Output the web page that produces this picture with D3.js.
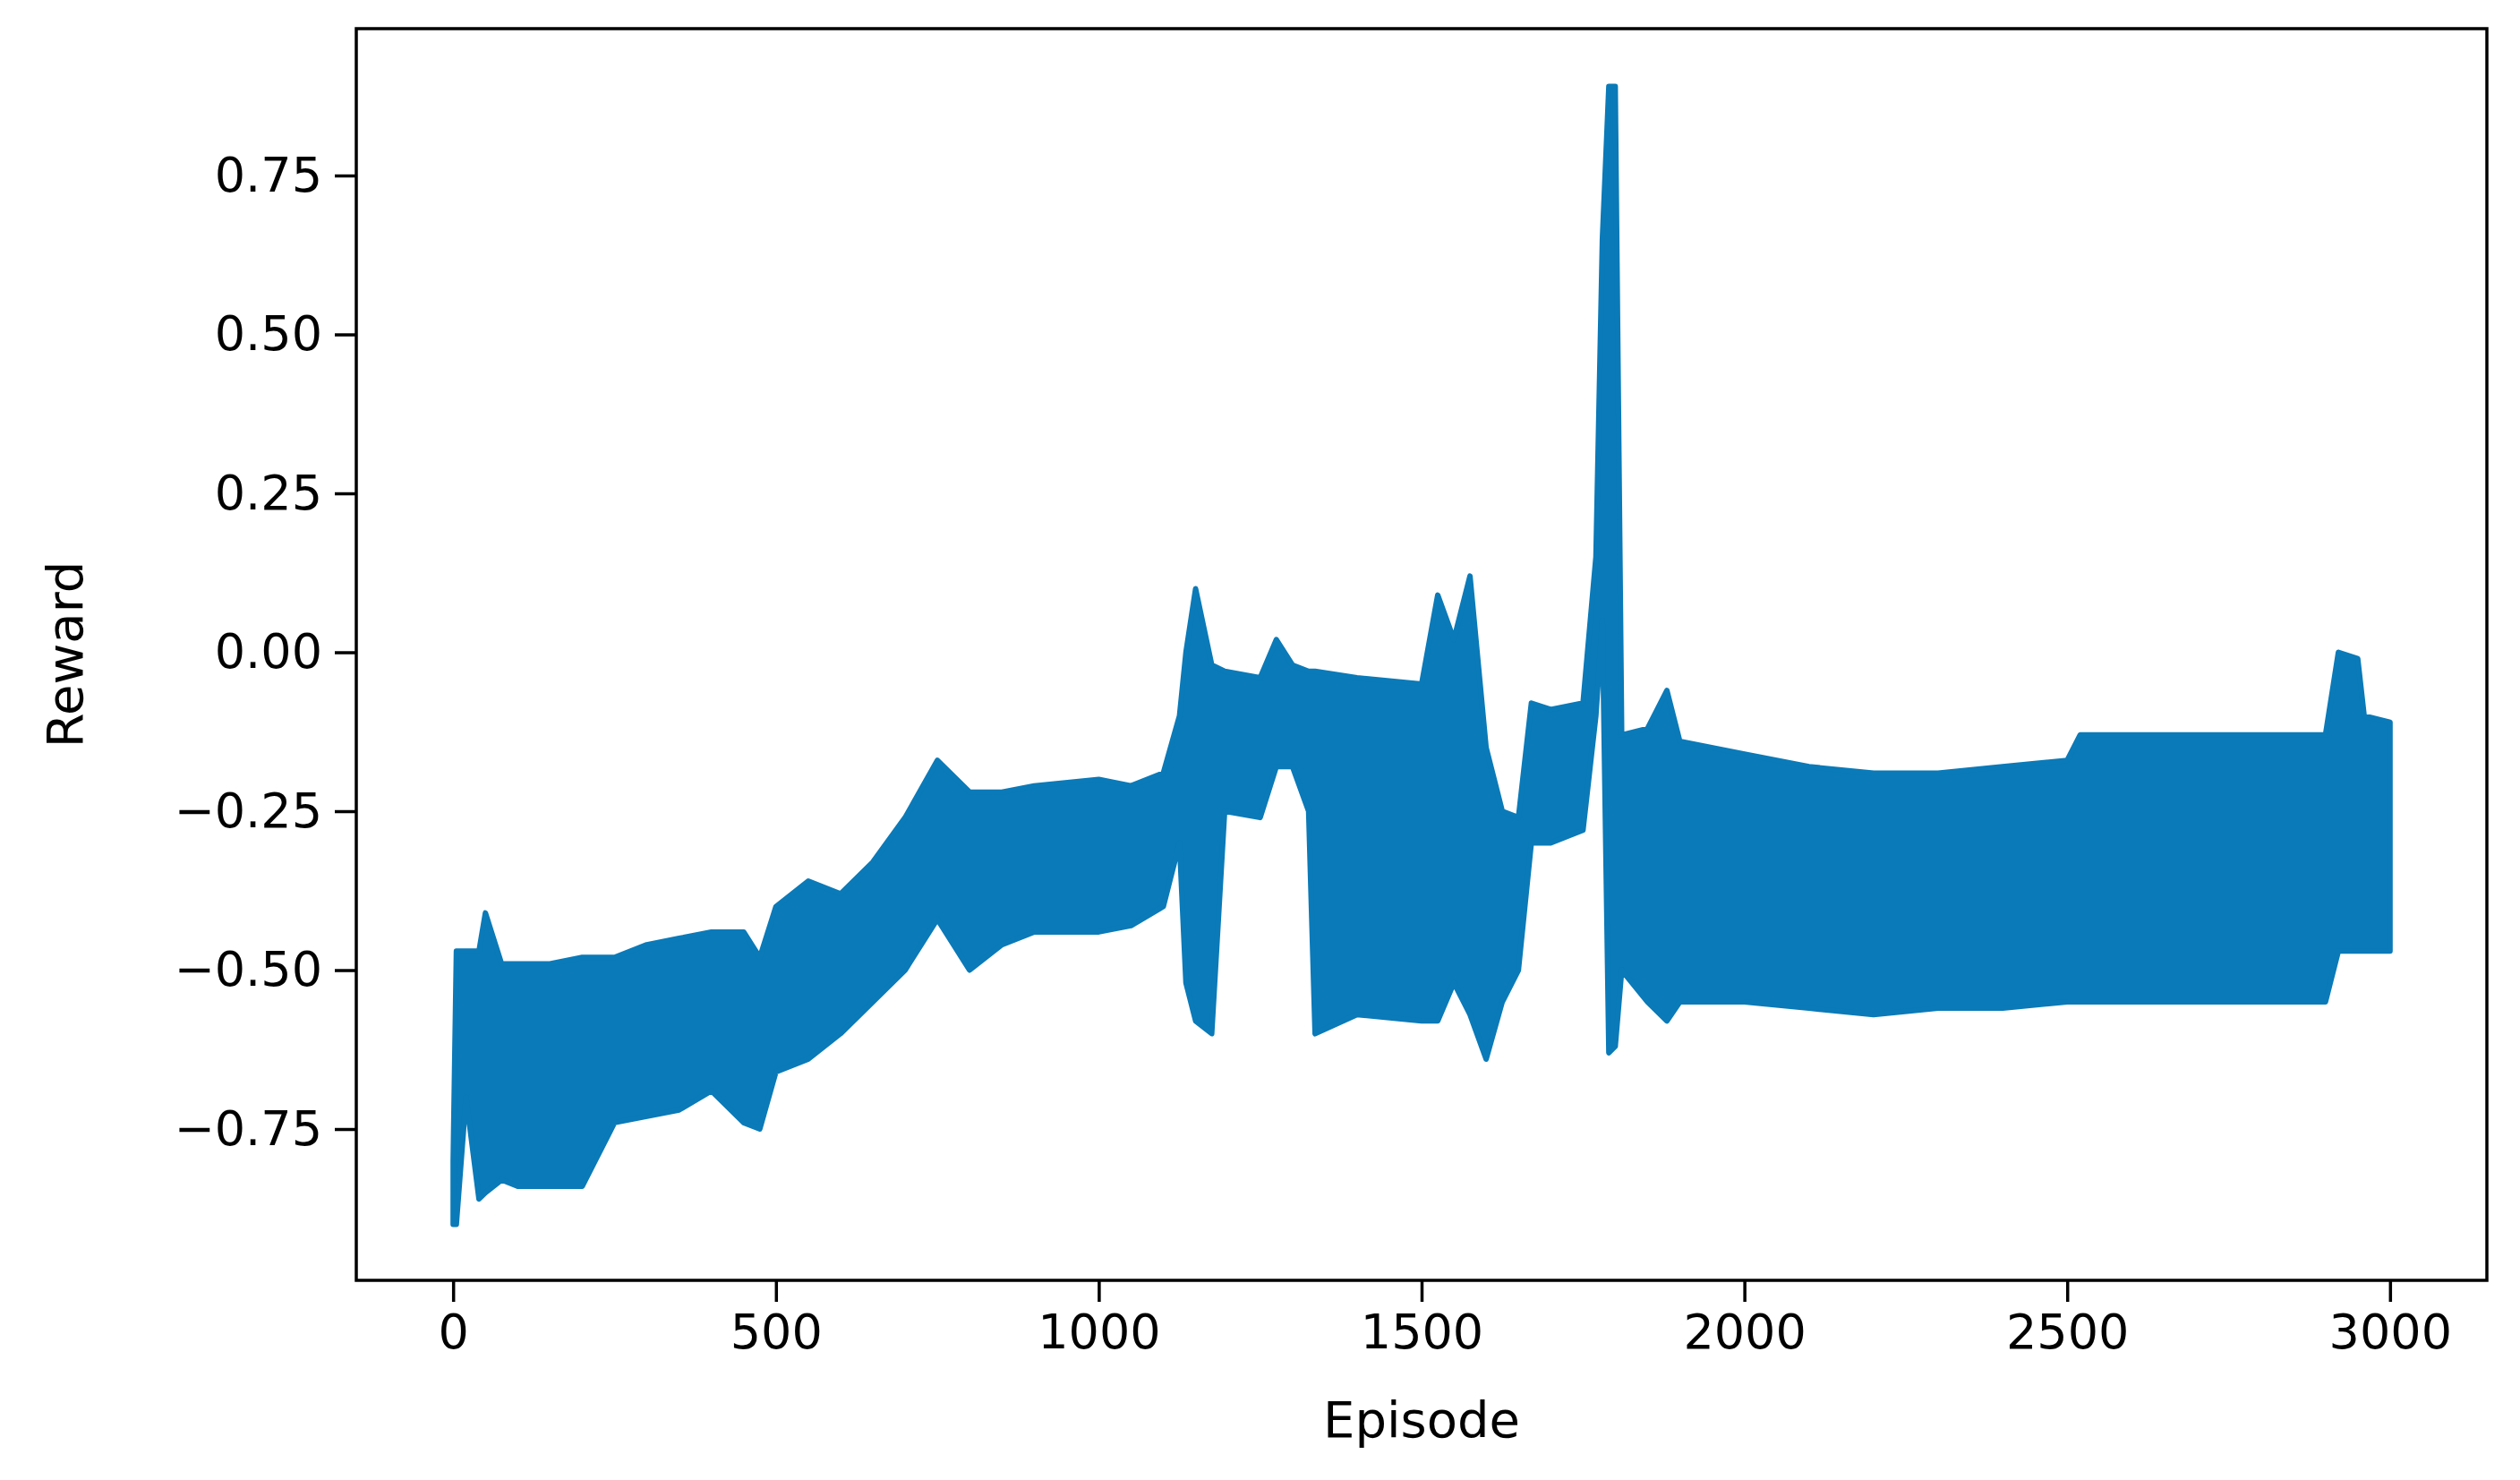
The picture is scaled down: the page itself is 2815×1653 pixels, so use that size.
<!DOCTYPE html>
<html>
<head>
<meta charset="utf-8">
<script src="https://d3js.org/d3.v7.min.js"></script>
<style>
  body { margin: 0; background: #fff; }
  text { font-family: "DejaVu Sans", sans-serif; fill: #000; }
</style>
</head>
<body>
<div id="container"></div>
<script>
// episode, upper and lower envelope of the reward trace
var episodes = [0, 5, 20, 40, 50, 75, 100, 150, 200, 250, 300, 350, 400, 450, 475, 500, 550, 600, 650, 700,
    750, 800, 850, 900, 1000, 1050, 1100, 1125, 1135, 1150, 1175, 1195, 1250, 1275, 1300, 1325, 1335, 1400,
    1500, 1525, 1550, 1575, 1600, 1625, 1650, 1670, 1700, 1750, 1770, 1780, 1790, 1800, 1810, 1850, 1880,
    1900, 2000, 2100, 2200, 2300, 2400, 2500, 2520, 2600, 2700, 2800, 2900, 2920, 2950, 2960, 3000];
var upper = [-0.80, -0.47, -0.47, -0.47, -0.41, -0.49, -0.49, -0.49, -0.48, -0.48, -0.46, -0.45, -0.44, -0.44, -0.48, -0.40, -0.36, -0.38, -0.33, -0.26,
    -0.17, -0.22, -0.22, -0.21, -0.20, -0.21, -0.19, -0.10, 0.00, 0.10, -0.02, -0.03, -0.04, 0.02, -0.02, -0.03, -0.03, -0.04,
    -0.05, 0.09, 0.02, 0.12, -0.15, -0.25, -0.26, -0.08, -0.09, -0.08, 0.15, 0.65, 0.89, 0.89, -0.13, -0.12, -0.06,
    -0.14, -0.16, -0.18, -0.19, -0.19, -0.18, -0.17, -0.13, -0.13, -0.13, -0.13, -0.13, 0.00, -0.01, -0.10, -0.11];
var lower = [-0.90, -0.90, -0.70, -0.86, -0.85, -0.83, -0.84, -0.84, -0.84, -0.74, -0.73, -0.72, -0.69, -0.74, -0.75, -0.66, -0.64, -0.60, -0.55, -0.50,
    -0.42, -0.50, -0.46, -0.44, -0.44, -0.43, -0.40, -0.30, -0.52, -0.58, -0.60, -0.25, -0.26, -0.18, -0.18, -0.25, -0.60, -0.57,
    -0.58, -0.58, -0.52, -0.57, -0.64, -0.55, -0.50, -0.30, -0.30, -0.28, -0.10, 0.05, -0.63, -0.62, -0.50, -0.55, -0.58,
    -0.55, -0.55, -0.56, -0.57, -0.56, -0.56, -0.55, -0.55, -0.55, -0.55, -0.55, -0.55, -0.47, -0.47, -0.47, -0.47];
var xTicks = [0, 500, 1000, 1500, 2000, 2500, 3000];
var yTicks = [-0.75, -0.5, -0.25, 0, 0.25, 0.5, 0.75];

var svgWidth = 2815, svgHeight = 1653,
    plotLeft = 398, plotRight = 2778, plotTop = 32, plotBottom = 1430;

var svg = d3.select('#container')
    .append('svg')
    .attr('width', svgWidth)
    .attr('height', svgHeight);

var x = d3.scaleLinear().domain([-150, 3150]).range([plotLeft, plotRight]);
var y = d3.scaleLinear().domain([-0.988, 0.981]).range([plotBottom, plotTop]);

var data = episodes.map(function(e, i) {
    return { e: e, hi: upper[i], lo: lower[i] };
});

var area = d3.area()
    .x(function(d) { return x(d.e); })
    .y0(function(d) { return y(d.lo); })
    .y1(function(d) { return y(d.hi); });

svg.append('path')
    .datum(data)
    .attr('d', area)
    .style('fill', '#0a7ab8')
    .style('stroke', '#0a7ab8')
    .style('stroke-width', 6)
    .style('stroke-linejoin', 'round');

var xAxis = svg.append('g')
    .attr('transform', 'translate(0,' + plotBottom + ')')
    .call(d3.axisBottom(x).tickValues(xTicks).tickSize(24).tickPadding(14).tickFormat(d3.format('d')));
var yAxis = svg.append('g')
    .attr('transform', 'translate(' + plotLeft + ',0)')
    .call(d3.axisLeft(y).tickValues(yTicks).tickSize(24).tickPadding(14)
        .tickFormat(function(d) { return d3.format('.2f')(d).replace('-', '\u2212'); }));

[xAxis, yAxis].forEach(function(a) {
    a.select('.domain').remove();
    a.selectAll('line').style('stroke', '#000').style('stroke-width', 3.5);
    a.selectAll('text').style('font-size', '54px');
});

svg.append('rect')
    .attr('x', plotLeft).attr('y', plotTop)
    .attr('width', plotRight - plotLeft).attr('height', plotBottom - plotTop)
    .style('fill', 'none').style('stroke', '#000').style('stroke-width', 3.5);

svg.append('text')
    .attr('x', (plotLeft + plotRight) / 2).attr('y', 1605)
    .attr('text-anchor', 'middle')
    .style('font-size', '56px')
    .text('Episode');
svg.append('text')
    .attr('transform', 'translate(92,' + (plotTop + plotBottom) / 2 + ') rotate(-90)')
    .attr('text-anchor', 'middle')
    .style('font-size', '56px')
    .text('Reward');
</script>
</body>
</html>
